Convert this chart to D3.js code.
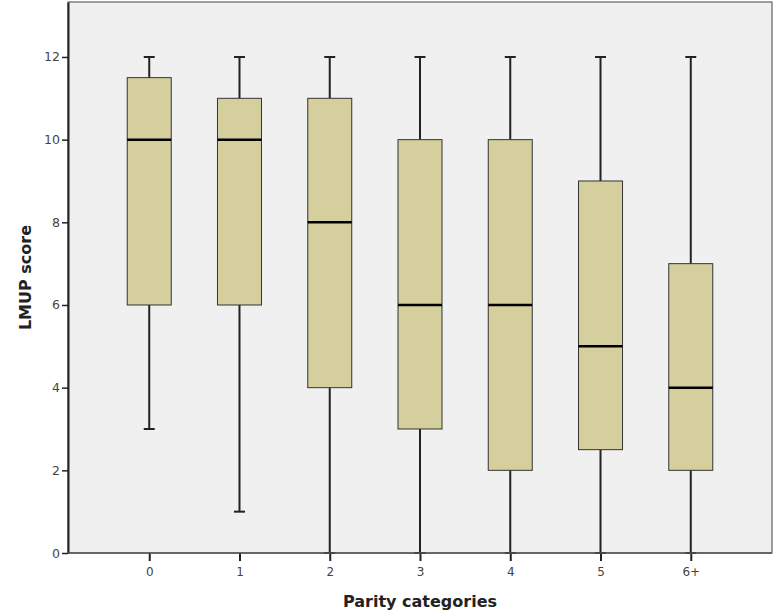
<!DOCTYPE html>
<html>
<head>
<meta charset="utf-8">
<script src="https://cdn.jsdelivr.net/npm/d3@7"></script>
<style>
  body { margin: 0; background: #fff; }
  svg { display: block; }
</style>
</head>
<body>
<div id="chart"></div>
<script>
"use strict"

const categories = ["0", "1", "2", "3", "4", "5", "6+"]
const lowWhisker = [3, 1, 0, 0, 0, 0, 0]
const q1 = [6, 6, 4, 3, 2, 2.5, 2]
const median = [10, 10, 8, 6, 6, 5, 4]
const q3 = [11.5, 11, 11, 10, 10, 9, 7]
const highWhisker = [12, 12, 12, 12, 12, 12, 12]
const yTicks = [0, 2, 4, 6, 8, 10, 12]

const width = 776, height = 612
const plotLeft = 68, plotRight = 772, plotTop = 2, plotBottom = 553

const boxes = categories.map((c, i) => ({
  cat: c, lo: lowWhisker[i], q1: q1[i], med: median[i], q3: q3[i], hi: highWhisker[i]
}))

const svg = d3.select("#chart").append("svg")
  .attr("width", width)
  .attr("height", height)

const x = d3.scalePoint().domain(categories).range([plotLeft, plotRight]).padding(0.9)
const y = d3.scaleLinear().domain([0, 13.33]).range([plotBottom, plotTop])

svg.append("rect")
  .attr("x", plotLeft).attr("y", plotTop)
  .attr("width", plotRight - plotLeft).attr("height", plotBottom - plotTop)
  .attr("fill", "#f0f0f0")
  .attr("stroke", "#444").attr("stroke-width", 1)

const boxW = 44, capW = 11

const g = svg.append("g").attr("class", "boxes")
const box = g.selectAll("g.box").data(boxes).enter().append("g").attr("class", "box")

// whiskers
box.append("line")
  .attr("x1", (d) => x(d.cat)).attr("x2", (d) => x(d.cat))
  .attr("y1", (d) => y(d.q3)).attr("y2", (d) => y(d.hi))
  .attr("stroke", "#222").attr("stroke-width", 2)
box.append("line")
  .attr("x1", (d) => x(d.cat)).attr("x2", (d) => x(d.cat))
  .attr("y1", (d) => y(d.q1)).attr("y2", (d) => y(d.lo))
  .attr("stroke", "#222").attr("stroke-width", 2)
box.append("line")
  .attr("x1", (d) => x(d.cat) - capW / 2).attr("x2", (d) => x(d.cat) + capW / 2)
  .attr("y1", (d) => y(d.hi)).attr("y2", (d) => y(d.hi))
  .attr("stroke", "#222").attr("stroke-width", 2)
box.append("line")
  .attr("x1", (d) => x(d.cat) - capW / 2).attr("x2", (d) => x(d.cat) + capW / 2)
  .attr("y1", (d) => y(d.lo)).attr("y2", (d) => y(d.lo))
  .attr("stroke", "#222").attr("stroke-width", 2)

box.append("rect")
  .attr("x", (d) => x(d.cat) - boxW / 2)
  .attr("y", (d) => y(d.q3))
  .attr("width", boxW)
  .attr("height", (d) => y(d.q1) - y(d.q3))
  .attr("fill", "#d4cf9d")
  .attr("stroke", "#333").attr("stroke-width", 1)

box.append("line")
  .attr("x1", (d) => x(d.cat) - boxW / 2).attr("x2", (d) => x(d.cat) + boxW / 2)
  .attr("y1", (d) => y(d.med)).attr("y2", (d) => y(d.med))
  .attr("stroke", "#000").attr("stroke-width", 2.5)

// axes
const yAxis = svg.append("g")
  .attr("transform", `translate(${plotLeft},0)`)
  .call(d3.axisLeft(y).tickValues(yTicks).tickSizeInner(6).tickSizeOuter(0).tickPadding(2).tickFormat(d3.format("d")))
yAxis.select(".domain").attr("stroke", "#222").attr("stroke-width", 2)
yAxis.selectAll(".tick line").attr("stroke", "#222").attr("stroke-width", 1.5)
yAxis.selectAll("text")
  .attr("font-family", "DejaVu Sans").attr("font-size", 12.5).attr("fill", "#444")

const xAxis = svg.append("g")
  .attr("transform", `translate(0,${plotBottom})`)
  .call(d3.axisBottom(x).tickSize(8).tickPadding(6))
xAxis.select(".domain").remove()
xAxis.selectAll(".tick line").attr("stroke", "#222").attr("stroke-width", 2)
xAxis.selectAll("text")
  .attr("font-family", "DejaVu Sans").attr("font-size", 12).attr("fill", "#444")

svg.append("line")
  .attr("x1", plotLeft).attr("x2", plotRight)
  .attr("y1", plotBottom).attr("y2", plotBottom)
  .attr("stroke", "#555").attr("stroke-width", 1.5)

svg.append("text")
  .attr("x", (plotLeft + plotRight) / 2).attr("y", 607)
  .attr("text-anchor", "middle")
  .attr("font-family", "DejaVu Sans").attr("font-weight", "bold").attr("font-size", 16)
  .attr("fill", "#222")
  .text("Parity categories")

svg.append("text")
  .attr("transform", `translate(31,${(plotTop + plotBottom) / 2}) rotate(-90)`)
  .attr("text-anchor", "middle")
  .attr("font-family", "DejaVu Sans").attr("font-weight", "bold").attr("font-size", 16)
  .attr("fill", "#222")
  .text("LMUP score")
</script>
</body>
</html>
